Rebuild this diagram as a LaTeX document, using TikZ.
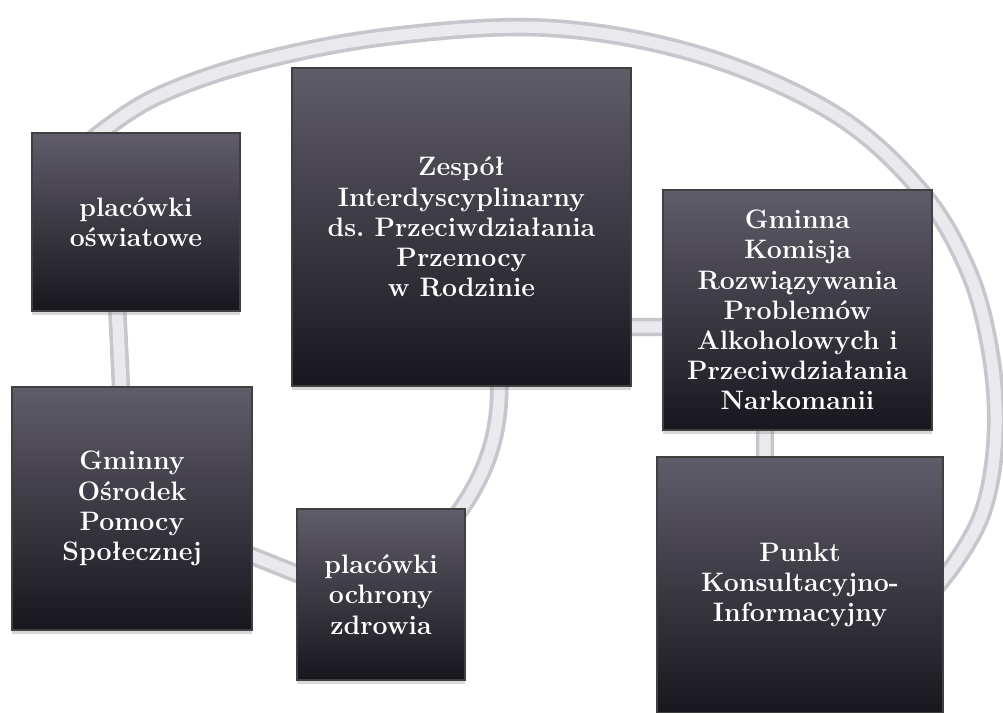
\documentclass[tikz,border=0pt]{standalone}
\usepackage{fontspec}
\usepackage{tikz}
\usetikzlibrary{positioning,shadows}
\definecolor{tiletop}{RGB}{96,92,106}
\definecolor{tilemid}{RGB}{62,60,72}
\definecolor{tilebot}{RGB}{24,23,29}
\definecolor{ringout}{RGB}{198,198,204}
\definecolor{ringin}{RGB}{234,234,238}

\begin{document}
\begin{tikzpicture}[x=0.025cm, y=-0.025cm,
    cellbox/.style={rectangle, draw=black!75, line width=0.8pt,
      top color=tiletop, middle color=tilemid, bottom color=tilebot,
      text=white, align=center, inner sep=2pt,
      drop shadow={shadow xshift=0pt, shadow yshift=-2.5pt, opacity=0.3},
      font=\fontsize{19}{21.5}\selectfont\bfseries},
    ringline/.style={line width=0.28cm, color=ringin, line join=round,
      preaction={draw, line width=0.46cm, color=ringout}}]
     \useasboundingbox[fill=white] (0,0) rectangle (1003,712);

     % the ring behind the boxes (corners stay hidden under the boxes)
     \draw[ringline] plot[smooth, tension=0.6] coordinates {
       (915,612) (957,560) (985,505) (996,430) (990,350) (968,270)
       (920,190) (833,113) (700,55) (550,28) (393,36) (260,61)
       (160,95) (100,133) (85,150)}
       -- (112,200) -- (124,450) -- (200,535) -- (340,591) -- (445,530)
       .. controls (495,470) and (501,420) .. (499,370)
       -- (600,327) -- (700,327) -- (765,400) -- (765,500) -- cycle;

     \node[cellbox, minimum width=5.2cm, minimum height=4.45cm] (osw) at (136,222)
       {placówki\\oświatowe};
     \node[cellbox, minimum width=8.475cm, minimum height=7.95cm] (zespol) at (461.5,227)
       {Zespół\\Interdyscyplinarny\\ds.\ Przeciwdziałania\\Przemocy\\w Rodzinie};
     \node[cellbox, minimum width=6.725cm, minimum height=6cm] (komisja) at (797.5,310)
       {Gminna\\Komisja\\Rozwiązywania\\Problemów\\Alkoholowych i\\Przeciwdziałania\\Narkomanii};
     \node[cellbox, minimum width=6cm, minimum height=6.075cm] (osrodek) at (132,508.5)
       {Gminny\\Ośrodek\\Pomocy\\Społecznej};
     \node[cellbox, minimum width=4.2cm, minimum height=4.275cm] (zdrowie) at (381,594.5)
       {placówki\\ochrony\\zdrowia};
     \node[cellbox, minimum width=7.15cm, minimum height=6.4cm] (punkt) at (800,585)
       {Punkt\\Konsultacyjno-\\Informacyjny};
   \end{tikzpicture}
\end{document}
